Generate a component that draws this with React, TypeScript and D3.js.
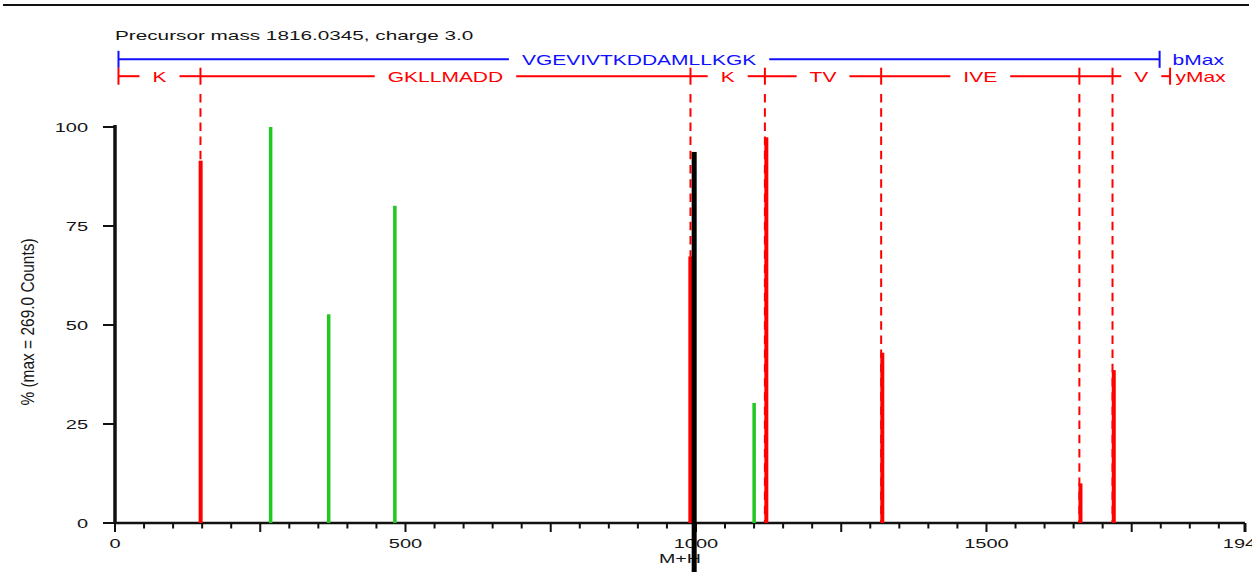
import React, { useEffect, useRef } from "react";
import * as d3 from "d3";

const W = 1252;
const H = 572;

// ---- spectrum data ----
const precursorMass = 1816.0345;
const precursorCharge = 3.0;
const maxCounts = 269.0;
const peptide = "VGEVIVTKDDAMLLKGK";

// y-ion ladder: boundary masses (M+H) and residues read between them
const yLadderMasses = [6.0, 147.11, 990.53, 1118.62, 1318.74, 1659.93, 1716.96, 1816.03];
const yLadderResidues = ["K", "GKLLMADD", "K", "TV", "IVE", "G", "V"];
// b-ion ladder: no matched b ions, so a single span up to bMax
const bLadderMasses = [6.0, 1798.02];
const bLadderResidues = [peptide];

// matched y-ion peaks
const yPeakMasses = [147.4, 990.3, 1121.1, 1320.7, 1661.8, 1719.1];
const yPeakPercent = [91.5, 67.3, 97.4, 43.0, 10.0, 38.6];
// other assigned peaks
const otherPeakMasses = [267.9, 367.8, 481.7, 1100.1];
const otherPeakPercent = [100, 52.7, 80.1, 30.3];
// precursor marker
const precursorPeakMass = 996.9;
const precursorPeakPercent = 93.7;

const xMax = 1945;
const xTickLabels = [0, 500, 1000, 1500, 1945];
const yTickLabels = [0, 25, 50, 75, 100];

const FONT = "'Liberation Sans', Arial, Helvetica, sans-serif";
const TEXT = "#151515";
const RED = "#ff0000";
const BLUE = "#1010ff";
const GREEN = "#22c822";

type Sel = d3.Selection<SVGGElement, unknown, null, undefined>;

function wideText(
  g: Sel,
  x: number,
  y: number,
  str: string,
  size: number,
  sx: number,
  anchor: string,
  fill: string
) {
  const t = g
    .append("text")
    .attr("transform", `translate(${x},${y}) scale(${sx},1)`)
    .attr("text-anchor", anchor)
    .style("font-family", FONT)
    .style("font-size", `${size}px`)
    .attr("fill", fill)
    .text(str);
  const w = (t.node() as SVGTextElement).getComputedTextLength() * sx;
  return { t, w };
}

export default function App() {
  const ref = useRef<SVGSVGElement>(null);

  useEffect(() => {
    const svg = d3.select(ref.current as SVGSVGElement);
    svg.selectAll("*").remove();
    const g = svg.append("g") as unknown as Sel;

    const x = d3.scaleLinear().domain([0, xMax]).range([115, 1245]);
    const y = d3.scaleLinear().domain([0, 100]).range([523, 127]);

    // frame line across the top
    g.append("line")
      .attr("x1", 3).attr("x2", 1249).attr("y1", 5).attr("y2", 5)
      .attr("stroke", "#111").attr("stroke-width", 2);

    // title
    wideText(
      g, 115, 39.5,
      `Precursor mass ${precursorMass.toFixed(4)}, charge ${precursorCharge.toFixed(1)}`,
      12.5, 1.66, "start", TEXT
    );

    // ion ladders
    const ladder = (
      masses: number[],
      residues: string[],
      yLine: number,
      color: string,
      endLabel: string,
      endDx: number
    ) => {
      const xs = masses.map((m) => x(m));
      const pad = 13;
      const lg = g.append("g") as unknown as Sel;
      xs.forEach((px) => {
        lg.append("line")
          .attr("x1", px).attr("x2", px)
          .attr("y1", yLine - 8.5).attr("y2", yLine + 8.5)
          .attr("stroke", color).attr("stroke-width", 2);
      });
      const seg = (a: number, b: number) => {
        if (b <= a) return;
        lg.append("line")
          .attr("x1", a).attr("x2", b).attr("y1", yLine).attr("y2", yLine)
          .attr("stroke", color).attr("stroke-width", 2);
      };
      residues.forEach((res, i) => {
        const a = xs[i];
        const b = xs[i + 1];
        const mid = (a + b) / 2;
        const { t, w } = wideText(lg, mid, yLine + 6, res, 14, 1.5, "middle", color);
        if (w + 2 * pad > b - a) {
          t.remove();
          seg(a, b);
        } else {
          seg(a, mid - w / 2 - pad);
          seg(mid + w / 2 + pad, b);
        }
      });
      wideText(lg, xs[xs.length - 1] + endDx, yLine + 6, endLabel, 14, 1.5, "start", color);
    };
    ladder(bLadderMasses, bLadderResidues, 59.3, BLUE, "bMax", 13);
    ladder(yLadderMasses, yLadderResidues, 76.2, RED, "yMax", 5.5);

    // dashed guides at the y-ion boundaries
    g.append("g")
      .selectAll("line")
      .data(yLadderMasses.slice(1, -1))
      .join("line")
      .attr("x1", (d) => x(d)).attr("x2", (d) => x(d))
      .attr("y1", 94).attr("y2", y(0))
      .attr("stroke", RED).attr("stroke-width", 2)
      .attr("stroke-dasharray", "8.5,5.7");

    // y axis
    const ya = g.append("g");
    ya.append("line")
      .attr("x1", x(0)).attr("x2", x(0)).attr("y1", y(100) - 2).attr("y2", y(0) + 1)
      .attr("stroke", "#111").attr("stroke-width", 3.5);
    yTickLabels.forEach((v) => {
      ya.append("line")
        .attr("x1", x(0) - 12).attr("x2", x(0)).attr("y1", y(v)).attr("y2", y(v))
        .attr("stroke", "#111").attr("stroke-width", 2);
      wideText(ya as unknown as Sel, 88, y(v) + 5, String(v), 12.5, 1.6, "end", TEXT);
    });
    ya.append("text")
      .attr("transform", "translate(34,322) rotate(-90) scale(1.19,1.35)")
      .attr("text-anchor", "middle")
      .style("font-family", FONT)
      .style("font-size", "13px")
      .attr("fill", TEXT)
      .text(`% (max = ${maxCounts.toFixed(1)} Counts)`);

    // x axis
    const xa = g.append("g");
    xa.append("line")
      .attr("x1", x(0)).attr("x2", x(xMax)).attr("y1", y(0)).attr("y2", y(0))
      .attr("stroke", "#111").attr("stroke-width", 2.5);
    const ticks = d3.range(0, xMax, 50).concat([xMax]);
    ticks.forEach((v) => {
      const major = v % 250 === 0 || v === xMax;
      xa.append("line")
        .attr("x1", x(v)).attr("x2", x(v))
        .attr("y1", y(0)).attr("y2", y(0) + (major ? 9 : 5.5))
        .attr("stroke", "#111").attr("stroke-width", v === xMax ? 3 : 2);
    });
    xTickLabels.forEach((v) => {
      wideText(xa as unknown as Sel, x(v), 548, String(v), 12.5, 1.6, "middle", TEXT);
    });
    wideText(xa as unknown as Sel, (x(0) + x(xMax)) / 2, 563, "M+H", 12.5, 1.57, "middle", TEXT);

    // peaks
    const peaks = g.append("g");
    otherPeakMasses.forEach((m, i) => {
      peaks.append("rect")
        .attr("x", x(m) - 1.75).attr("width", 3.5)
        .attr("y", y(otherPeakPercent[i])).attr("height", y(0) - y(otherPeakPercent[i]))
        .attr("fill", GREEN);
    });
    yPeakMasses.forEach((m, i) => {
      peaks.append("rect")
        .attr("x", x(m) - 2).attr("width", 4)
        .attr("y", y(yPeakPercent[i])).attr("height", y(0) - y(yPeakPercent[i]))
        .attr("fill", RED);
    });
    peaks.append("rect")
      .attr("x", x(precursorPeakMass) - 2.5).attr("width", 5)
      .attr("y", y(precursorPeakPercent)).attr("height", H + 10 - y(precursorPeakPercent))
      .attr("fill", "#000");
  }, []);

  return (
    <svg
      ref={ref}
      width={W}
      height={H}
      style={{ position: "absolute", left: 0, top: 0, background: "#fff", display: "block" }}
    />
  );
}
